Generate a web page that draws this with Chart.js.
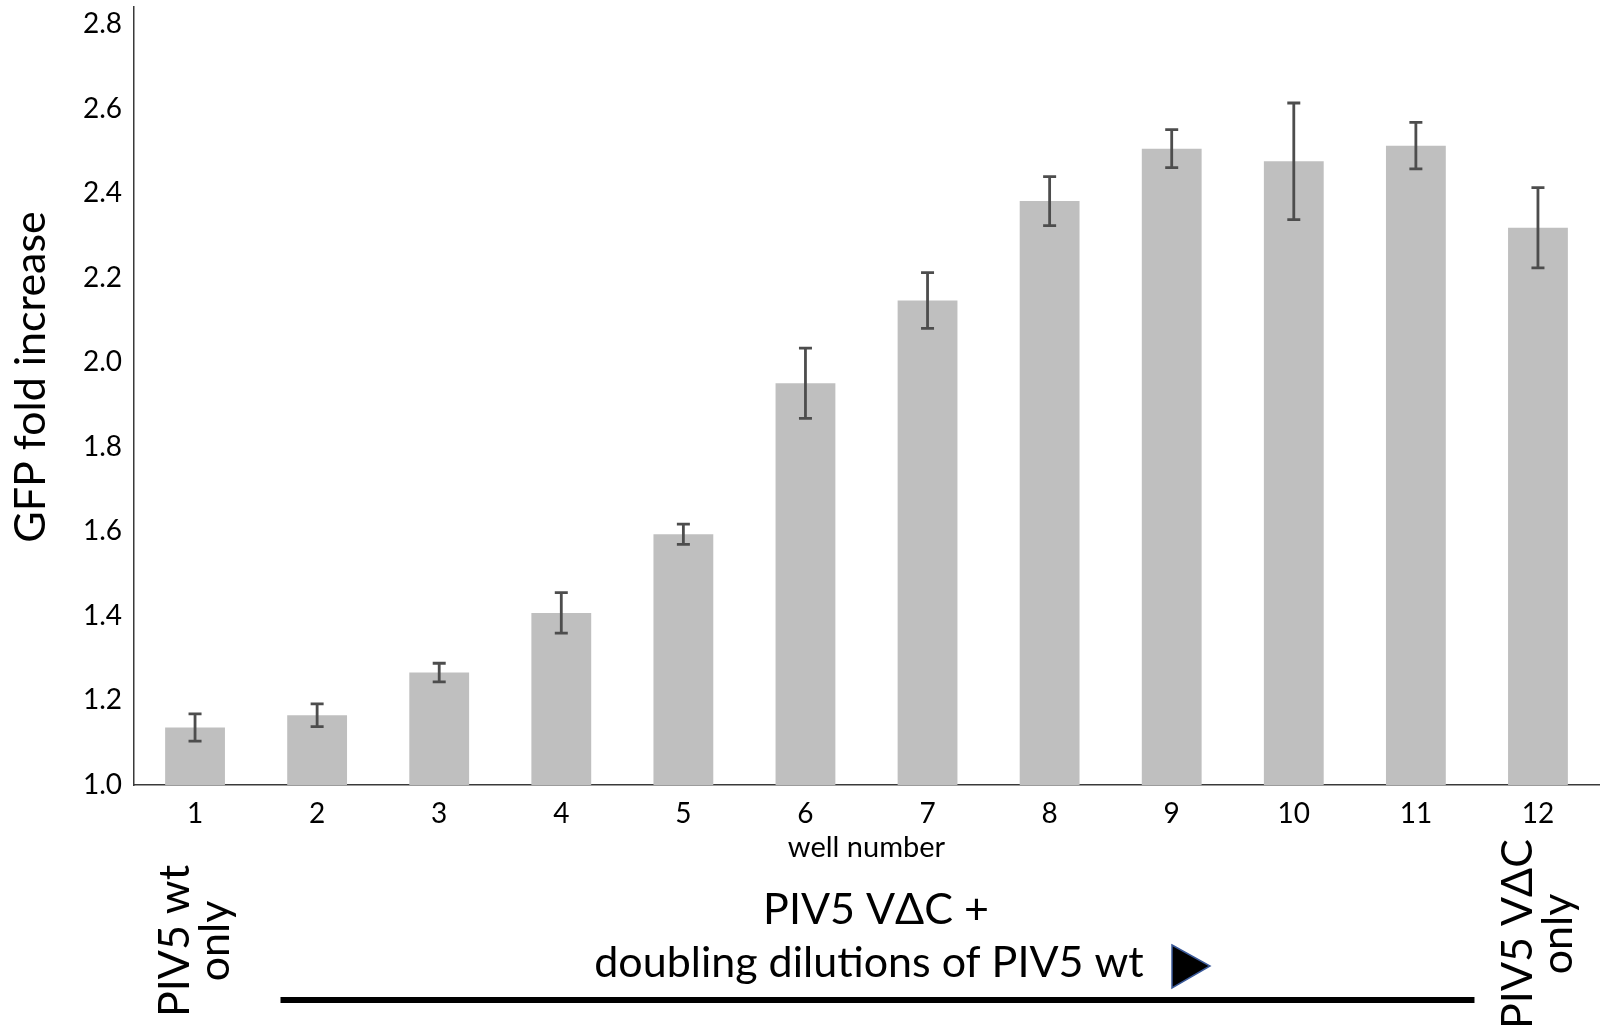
<!DOCTYPE html>
<html>
<head>
<meta charset="utf-8">
<script src="https://cdn.jsdelivr.net/npm/chart.js@4.4.1/dist/chart.umd.min.js"></script>
<style>
  html, body { margin: 0; padding: 0; background: #fff; }
  #wrap { width: 1610px; height: 1025px; }
</style>
</head>
<body>
<div id="wrap"><canvas id="gfpChart" width="1610" height="1025"></canvas></div>
<script>
// GFP fold increase per well (mean ± error)
const WELLS = ['1', '2', '3', '4', '5', '6', '7', '8', '9', '10', '11', '12'];
const GFP_MEAN = [1.136, 1.165, 1.266, 1.407, 1.593, 1.950, 2.146, 2.381, 2.505, 2.475, 2.512, 2.318];
const GFP_ERR = [0.032, 0.027, 0.022, 0.048, 0.024, 0.083, 0.066, 0.058, 0.045, 0.138, 0.055, 0.095];
const Y_TICKS = [1.0, 1.2, 1.4, 1.6, 1.8, 2.0, 2.2, 2.4, 2.6, 2.8];

const FONT = 'Lato, "Open Sans", sans-serif';
const barColor = '#bfbfbf';
const errColor = '#4d4d4d';
const axisColor = '#3a3a3a';

const annotate = {
  id: 'annotate',
  afterDatasetsDraw(chart) {
    const ctx = chart.ctx;
    const meta = chart.getDatasetMeta(0);
    const y = chart.scales.y;

    // error bars
    ctx.save();
    ctx.strokeStyle = errColor;
    ctx.lineWidth = 2.8;
    meta.data.forEach((bar, i) => {
      const top = y.getPixelForValue(GFP_MEAN[i] + GFP_ERR[i]);
      const bot = y.getPixelForValue(GFP_MEAN[i] - GFP_ERR[i]);
      ctx.beginPath();
      ctx.moveTo(bar.x, top); ctx.lineTo(bar.x, bot);
      ctx.moveTo(bar.x - 6.5, top); ctx.lineTo(bar.x + 6.5, top);
      ctx.moveTo(bar.x - 6.5, bot); ctx.lineTo(bar.x + 6.5, bot);
      ctx.stroke();
    });
    ctx.restore();
  },
  afterDraw(chart) {
    const ctx = chart.ctx;
    const x = chart.scales.x;
    const first = x.getPixelForValue(0);
    const last = x.getPixelForValue(WELLS.length - 1);
    const step = x.getPixelForValue(1) - first;

    ctx.save();
    ctx.fillStyle = '#000';
    ctx.textAlign = 'center';
    ctx.textBaseline = 'middle';

    // y axis title
    ctx.save();
    ctx.translate(31, 377);
    ctx.rotate(-Math.PI / 2);
    ctx.font = '43px ' + FONT;
    ctx.fillText('GFP fold increase', 0, 0);
    ctx.restore();

    // rotated group labels under wells 1 and 12
    ctx.font = '43px ' + FONT;
    [[first, 941, 'PIV5 wt', 'only'], [last, 934, 'PIV5 V\u0394C', 'only']].forEach(([cx, cy, l1, l2]) => {
      ctx.save();
      ctx.translate(cx, cy);
      ctx.rotate(-Math.PI / 2);
      ctx.fillText(l1, 0, -20);
      ctx.fillText(l2, 0, 20);
      ctx.restore();
    });

    // centre caption
    ctx.font = '43px ' + FONT;
    ctx.fillText('PIV5 V\u0394C +', 876, 910);
    ctx.fillText('doubling dilutions of PIV5 wt', 869, 963);

    // arrow head
    ctx.beginPath();
    ctx.moveTo(1172, 945);
    ctx.lineTo(1210, 966);
    ctx.lineTo(1172, 988);
    ctx.closePath();
    ctx.fillStyle = '#000';
    ctx.fill();
    ctx.strokeStyle = '#3b5a9a';
    ctx.lineWidth = 1.5;
    ctx.stroke();

    // bracket line under wells 2-11
    ctx.fillStyle = '#000';
    const lx0 = first + step * 0.7;
    const lx1 = x.getPixelForValue(WELLS.length - 2) + step * 0.48;
    ctx.fillRect(lx0, 997, lx1 - lx0, 6);

    ctx.restore();
  }
};

new Chart(document.getElementById('gfpChart'), {
  type: 'bar',
  data: {
    labels: WELLS,
    datasets: [{
      data: GFP_MEAN,
      backgroundColor: barColor,
      barPercentage: 0.49,
      categoryPercentage: 1.0
    }]
  },
  options: {
    responsive: false,
    animation: false,
    devicePixelRatio: 1,
    layout: { padding: { top: 7, right: 11, left: 0, bottom: 0 } },
    plugins: {
      legend: { display: false },
      tooltip: { enabled: false }
    },
    scales: {
      x: {
        grid: { display: false, drawTicks: false },
        border: { color: axisColor, width: 1.5 },
        ticks: { font: { family: FONT, size: 28 }, color: '#000', padding: 12, maxRotation: 0 },
        title: {
          display: true,
          text: 'well number',
          font: { family: FONT, size: 29 },
          color: '#000',
          padding: { top: 0, bottom: 160 }
        },
        afterFit: s => { s.height = 240; s.paddingLeft = 0; s.paddingRight = 0; }
      },
      y: {
        min: 1.0,
        max: 2.84,
        grid: { display: false, drawTicks: false },
        border: { color: axisColor, width: 1.5 },
        afterBuildTicks: s => { s.ticks = Y_TICKS.map(v => ({ value: v })); },
        ticks: {
          font: { family: FONT, size: 28 },
          color: '#000',
          padding: 12,
          callback: v => Number(v).toFixed(1)
        },
        afterFit: s => { s.width = 134; s.paddingTop = 0; s.paddingBottom = 0; }
      }
    }
  },
  plugins: [annotate]
});
</script>
</body>
</html>
